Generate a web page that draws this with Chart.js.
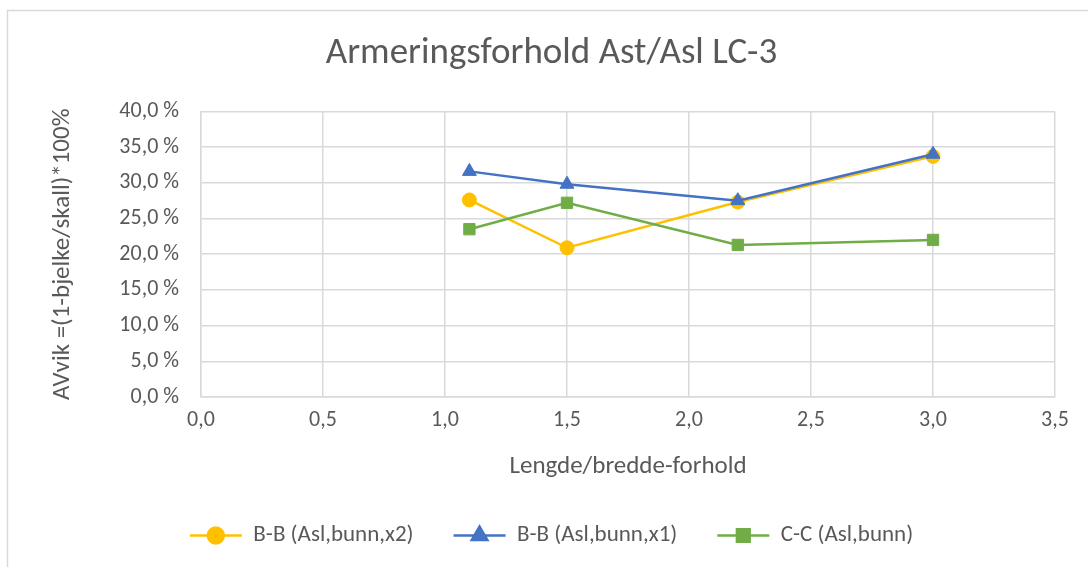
<!DOCTYPE html>
<html>
<head>
<meta charset="utf-8">
<script src="https://cdn.jsdelivr.net/npm/chart.js@4/dist/chart.umd.min.js"></script>
<style>
  html, body { margin: 0; padding: 0; background: #fff; }
  canvas { display: block; }
</style>
</head>
<body>
<canvas id="myChart" width="1088" height="567"></canvas>
<script>
// ratio (lengde/bredde) and deviation in percent
const ratios = [1.1, 1.5, 2.2, 3.0];
const bbX2 = [27.6, 20.9, 27.3, 33.7];
const bbX1 = [31.6, 29.8, 27.5, 34.0];
const ccBunn = [23.5, 27.2, 21.3, 22.0];
const seriesNames = ['B-B (Asl,bunn,x2)', 'B-B (Asl,bunn,x1)', 'C-C (Asl,bunn)'];

const [YELLOW, BLUE, GREEN] = ['#ffc000', '#4472c4', '#70ad47'];
const TEXT_COLOR = '#595959';
const GRID_COLOR = '#d9d9d9';
const FONT = 'Carlito, Lato, sans-serif';

const toPoints = (vals) => vals.map((v, i) => ({ x: ratios[i], y: v }));
const comma = (v, d) => v.toFixed(d).replace('.', ',');

const data = {
    datasets: [
        {
            label: seriesNames[0],
            data: toPoints(bbX2),
            borderColor: YELLOW,
            backgroundColor: YELLOW,
            pointStyle: 'circle',
            pointRadius: 7,
            order: 3,
        },
        {
            label: seriesNames[1],
            data: toPoints(bbX1),
            borderColor: BLUE,
            backgroundColor: BLUE,
            pointStyle: 'triangle',
            pointRadius: 8,
            order: 2,
        },
        {
            label: seriesNames[2],
            data: toPoints(ccBunn),
            borderColor: GREEN,
            backgroundColor: GREEN,
            pointStyle: 'rect',
            pointRadius: 8,
            order: 1,
        },
    ]
};

// white background + thin frame like the spreadsheet chart
const framePlugin = {
    id: 'frame',
    beforeDraw(chart) {
        const c = chart.ctx;
        c.save();
        c.fillStyle = '#fff';
        c.fillRect(0, 0, chart.width, chart.height);
        c.strokeStyle = GRID_COLOR;
        c.lineWidth = 1.5;
        c.strokeRect(7.5, 10.5, chart.width + 20, chart.height + 20);
        c.restore();
    }
};

// legend markers: line with the point in the middle
const legendLinePlugin = {
    id: 'legendLine',
    afterDraw(chart) {
        const legend = chart.legend;
        const c = chart.ctx;
        legend.legendItems.forEach((item, i) => {
            const box = legend.legendHitBoxes[i];
            const ds = chart.data.datasets[item.datasetIndex];
            const w = legend.options.labels.boxWidth;
            const cy = box.top + box.height / 2;
            c.save();
            c.strokeStyle = ds.borderColor;
            c.lineWidth = 2.5;
            c.beginPath();
            c.moveTo(box.left, cy);
            c.lineTo(box.left + w, cy);
            c.stroke();
            Chart.helpers.drawPoint(c, {
                pointStyle: ds.pointStyle,
                radius: ds.pointRadius + 1,
                rotation: 0,
                borderWidth: 1,
            }, box.left + w / 2, cy);
            c.fillStyle = ds.backgroundColor;
            c.strokeStyle = ds.borderColor;
            c.fill();
            c.restore();
        });
    }
};

const config = {
    type: 'line',
    data: data,
    options: {
        responsive: false,
        animation: false,
        layout: {
            padding: { left: 48, right: 33, top: 0, bottom: 10 },
        },
        elements: {
            line: { borderWidth: 2.5, tension: 0 },
            point: { borderWidth: 1 },
        },
        scales: {
            x: {
                type: 'linear',
                min: 0,
                max: 3.5,
                ticks: {
                    stepSize: 0.5,
                    color: TEXT_COLOR,
                    font: { family: FONT, size: 22 },
                    padding: 10,
                    callback: (v) => comma(v, 1),
                },
                grid: { color: GRID_COLOR, lineWidth: 1.5, drawTicks: false },
                border: { color: GRID_COLOR, width: 1.5 },
                title: {
                    display: true,
                    text: 'Lengde/bredde-forhold',
                    color: TEXT_COLOR,
                    font: { family: FONT, size: 25 },
                    padding: { top: 4, bottom: 2 },
                },
                afterFit: (s) => { s.height = 87; },
            },
            y: {
                min: 0,
                max: 40,
                ticks: {
                    stepSize: 5,
                    color: TEXT_COLOR,
                    font: { family: FONT, size: 22 },
                    padding: 22,
                    callback: (v) => comma(v, 1) + ' %',
                },
                grid: { color: GRID_COLOR, lineWidth: 1.5, drawTicks: false },
                border: { color: GRID_COLOR, width: 1.5 },
                title: {
                    display: true,
                    text: 'AVvik =(1-bjelke/skall)*100%',
                    color: TEXT_COLOR,
                    font: { family: FONT, size: 25 },
                    padding: { top: 0, bottom: 0 },
                },
                afterFit: (s) => { s.width = 153; },
            },
        },
        plugins: {
            title: {
                display: true,
                text: 'Armeringsforhold Ast/Asl LC-3',
                color: TEXT_COLOR,
                font: { family: FONT, size: 37, weight: 'normal' },
                padding: { top: 32, bottom: 35 },
            },
            legend: {
                position: 'bottom',
                labels: {
                    boxWidth: 52,
                    boxHeight: 16,
                    padding: 40,
                    color: TEXT_COLOR,
                    font: { family: FONT, size: 23 },
                    sort: (a, b) => a.datasetIndex - b.datasetIndex,
                    generateLabels: (chart) => {
                        const items = Chart.defaults.plugins.legend.labels.generateLabels(chart);
                        items.forEach((it) => {
                            it.fillStyle = 'rgba(0,0,0,0)';
                            it.strokeStyle = 'rgba(0,0,0,0)';
                            it.lineWidth = 0;
                        });
                        return items;
                    },
                },
            },
            tooltip: { enabled: false },
        },
    },
    plugins: [framePlugin, legendLinePlugin],
};

const ctx = document.getElementById('myChart').getContext('2d');
new Chart(ctx, config);
</script>
</body>
</html>
